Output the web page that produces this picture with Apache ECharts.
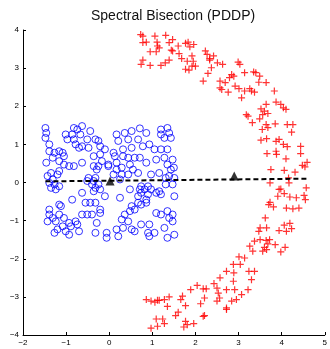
<!DOCTYPE html>
<html>
<head>
<meta charset="utf-8">
<script src="https://cdn.jsdelivr.net/npm/echarts@6/dist/echarts.min.js"></script>
<style>
html, body { margin: 0; padding: 0; background: #fff; }
#chart { width: 330px; height: 349px; }
</style>
</head>
<body>
<div id="chart"></div>
<script>
// blue circles, left cluster
var circlePts = [
	[-1.48, 1.43], [-1.46, 1.30], [-1.48, 1.17], [-0.82, 1.43], [-0.63, 1.48], [-0.44, 1.35], [-0.74, 1.39], [-1.01, 1.26],
	[-0.86, 1.26], [-0.67, 1.26], [-0.97, 1.13], [-0.82, 1.13], [-0.51, 1.13], [-0.32, 1.13], [-0.25, 1.09], [-0.78, 1.00],
	[-0.63, 0.95], [-0.70, 0.91], [-0.48, 0.91], [-0.21, 0.95], [-0.10, 0.87], [-1.39, 1.00], [-1.16, 0.82], [-1.08, 0.78],
	[-1.05, 0.69], [-1.39, 0.82], [-1.27, 0.78], [-1.31, 0.65], [-1.46, 0.52], [-1.16, 0.56], [-1.05, 0.47], [-0.93, 0.43],
	[-0.82, 0.43], [-0.63, 0.52], [-0.36, 0.43], [-0.25, 0.43], [-0.29, 0.34], [-0.21, 0.74], [-0.36, 0.69], [-0.17, 0.56],
	[-0.02, 0.43], [-1.35, 0.25], [-1.16, 0.30], [-1.20, 0.21], [-1.43, 0.17], [-1.31, 0.08], [-1.39, -0.01], [-1.27, -0.05],
	[-1.16, -0.10], [-1.24, -0.18], [-1.35, -0.14], [-0.48, 0.12], [-0.32, 0.12], [-0.51, 0.04], [-0.36, 0.04], [-0.40, -0.05],
	[-0.25, -0.05], [-0.32, -0.14], [-0.36, -0.23], [-0.21, -0.18], [-0.63, -0.27], [-0.10, -0.36], [-0.86, -0.45], [-0.55, -0.53],
	[-0.44, -0.53], [-0.32, -0.53], [-1.16, -0.58], [-1.12, -0.62], [-1.39, -0.71], [-1.39, -0.84], [-1.31, -0.93], [-1.43, -1.02],
	[-1.16, -0.84], [-1.05, -0.93], [-1.24, -1.02], [-0.93, -1.06], [-0.78, -1.02], [-0.74, -1.10], [-0.89, -1.15], [-1.08, -1.15],
	[-1.20, -1.23], [-1.27, -1.32], [-1.01, -1.28], [-0.93, -1.37], [-0.70, -1.28], [-0.63, -0.84], [-0.51, -0.84], [-0.40, -0.84],
	[-0.21, -0.71], [-0.21, -0.80], [-0.29, -1.06], [-0.32, -1.32], [-0.06, -1.32], [-0.06, -1.45],
	[0.17, 1.26], [0.36, 1.30], [0.52, 1.35], [0.71, 1.42], [0.86, 1.30], [1.20, 1.39], [1.35, 1.43], [1.20, 1.26],
	[1.39, 1.30], [1.28, 1.17], [1.43, 1.17], [0.21, 1.09], [0.44, 1.13], [0.67, 1.13], [0.78, 0.95], [0.93, 1.00],
	[1.05, 0.87], [1.20, 0.87], [1.35, 0.87], [0.32, 0.87], [0.52, 0.91], [0.10, 0.78], [0.13, 0.69], [0.32, 0.69],
	[0.44, 0.65], [0.59, 0.65], [0.71, 0.65], [0.86, 0.52], [1.09, 0.60], [1.28, 0.65], [1.47, 0.60], [-0.02, 0.47],
	[0.17, 0.52], [0.29, 0.39], [0.48, 0.47], [0.55, 0.34], [0.44, 0.21], [0.29, 0.21], [0.17, 0.34], [0.10, 0.21],
	[0.67, 0.25], [0.97, 0.21], [1.16, 0.25], [1.35, 0.47], [1.43, 0.34], [1.50, 0.39], [1.39, 0.17], [1.31, 0.12],
	[1.51, 0.12], [0.25, 0.08], [0.74, -0.10], [0.90, -0.10], [0.71, -0.18], [0.82, -0.18], [0.97, -0.18], [0.74, -0.27],
	[0.90, -0.31], [0.67, -0.36], [0.86, -0.45], [1.09, -0.27], [1.16, -0.23], [1.20, -0.31], [1.51, -0.36], [1.31, -0.05],
	[1.47, -0.05], [0.25, -0.40], [0.48, -0.18], [0.67, -0.53], [0.86, -0.53], [0.74, -0.58], [0.52, -0.62], [0.59, -0.71],
	[0.48, -0.75], [0.36, -0.84], [0.29, -0.97], [0.44, -1.02], [0.17, -1.23], [0.21, -1.41], [0.52, -1.23], [0.59, -1.28],
	[0.74, -1.10], [0.93, -1.10], [1.09, -0.80], [1.20, -0.84], [1.35, -0.75], [1.47, -0.84], [1.39, -0.93], [1.47, -1.02],
	[1.28, -1.19], [1.35, -1.45], [1.51, -1.37], [0.90, -1.32], [0.93, -1.41], [1.05, -1.32], [0.32, -1.19]
];

// red pluses, crescent on the right
var plusPts = [
	[0.73, 3.88], [0.78, 3.84], [1.06, 3.84], [1.31, 3.86], [1.47, 3.75], [0.78, 3.67], [0.86, 3.68], [1.11, 3.68],
	[1.39, 3.67], [1.12, 3.58], [1.16, 3.53], [0.95, 3.43], [1.09, 3.43], [1.44, 3.47], [1.47, 3.45], [1.60, 3.58],
	[1.77, 3.65], [1.83, 3.68], [1.87, 3.56], [1.96, 3.62], [1.62, 3.38], [0.78, 3.21], [0.74, 3.10], [0.95, 3.07],
	[1.20, 3.07], [1.30, 3.14], [1.39, 3.21], [1.68, 3.25], [1.81, 3.18], [1.92, 3.32], [1.95, 3.18], [1.92, 3.05],
	[2.00, 3.05], [1.77, 2.97], [1.85, 2.95], [2.23, 3.45], [2.27, 3.36], [2.33, 3.21], [2.42, 3.32], [2.33, 3.25],
	[2.51, 3.14], [2.63, 3.10], [2.37, 3.01], [2.29, 2.86], [2.18, 2.66], [2.57, 2.66], [2.69, 2.62], [2.57, 2.48],
	[2.61, 2.44],
	[2.99, 3.16], [3.03, 3.10], [3.14, 2.88], [3.35, 2.90], [3.40, 2.88], [3.49, 2.79], [3.47, 2.63], [3.64, 2.62],
	[2.84, 2.83], [2.89, 2.79], [2.79, 2.75], [2.92, 2.53], [3.01, 2.46], [3.26, 2.46],
	[2.76, 2.37], [3.07, 2.22], [3.14, 2.40], [3.30, 2.40], [3.37, 2.37], [3.83, 2.40], [3.87, 2.11], [3.98, 2.05],
	[4.04, 1.96], [4.10, 1.92], [3.64, 2.05], [3.52, 1.93], [3.60, 1.87], [3.56, 1.78], [3.68, 1.81], [3.49, 1.67],
	[3.18, 1.78], [3.22, 1.74], [3.32, 1.57], [3.64, 1.52], [3.68, 1.44], [3.55, 1.39], [3.85, 1.54], [4.13, 1.52],
	[4.26, 1.52], [4.23, 1.32], [3.65, 1.15], [3.52, 1.11], [3.87, 1.08], [3.94, 1.13], [4.04, 1.00], [4.13, 0.94],
	[4.44, 0.95], [3.87, 0.82], [3.88, 0.74], [4.44, 0.76], [3.66, 0.76], [4.10, 0.62], [4.59, 0.53], [4.48, 0.45],
	[4.54, 0.41], [3.75, 0.34], [4.06, 0.32], [4.31, 0.27], [4.16, 0.12], [4.17, -0.01], [3.73, -0.01], [3.94, -0.18],
	[3.98, -0.17], [4.57, -0.14], [3.91, -0.36], [4.06, -0.29], [4.19, -0.38], [4.34, -0.40], [4.52, -0.34], [4.55, -0.45],
	[3.73, -0.52], [3.70, -0.58], [3.81, -0.64], [4.11, -0.67], [4.26, -0.69], [4.40, -0.67], [3.62, -0.93],
	[3.50, -1.19], [3.65, -1.19], [3.47, -1.28], [3.94, -1.26], [4.06, -1.12], [4.19, -1.07], [4.23, -1.21], [4.11, -1.28],
	[3.50, -1.50], [3.64, -1.52], [3.72, -1.50], [3.68, -1.61], [3.60, -1.70], [3.85, -1.63], [4.08, -1.70], [3.56, -1.80],
	[3.65, -1.76], [3.98, -1.82],
	[3.37, -1.54], [3.26, -1.67], [3.33, -1.80], [3.01, -1.95], [3.14, -1.98], [2.88, -2.15], [3.04, -2.15], [2.72, -2.33],
	[2.89, -2.37], [3.24, -2.33], [3.37, -2.33], [2.57, -2.50], [3.30, -2.55], [2.88, -2.59], [2.43, -2.65], [2.04, -2.70],
	[1.89, -2.81], [2.18, -2.79], [2.25, -2.79], [2.50, -2.77], [2.72, -2.81], [2.91, -2.81], [3.22, -2.81], [2.53, -2.90],
	[3.07, -2.94], [2.56, -3.03], [2.21, -3.03], [1.70, -2.98], [1.66, -3.07], [1.39, -3.00], [1.28, -3.07], [1.16, -3.09],
	[0.86, -3.07], [0.97, -3.11], [1.06, -3.14], [1.12, -3.09], [1.35, -3.25], [1.77, -3.23], [2.12, -3.18], [2.50, -3.11],
	[2.84, -3.11], [2.95, -3.07], [2.72, -3.29], [2.72, -3.33], [1.60, -3.40], [1.54, -3.49], [2.21, -3.49], [2.18, -3.51],
	[1.09, -3.58], [1.24, -3.58], [1.28, -3.70], [1.12, -3.77], [0.97, -3.82], [1.77, -3.64], [1.81, -3.73], [1.96, -3.70],
	[1.73, -3.79]
];

// the two centroids (triangles) and the dashed splitting line
var centroids = [[0.02, 0.04], [2.90, 0.17]];
var cutLine = [[-1.48, 0.03], [4.59, 0.10]];

var xTicks = [-2, -1, 0, 1, 2, 3, 4, 5];
var yTicks = [-4, -3, -2, -1, 0, 1, 2, 3, 4];

var fontName = '"Liberation Sans", Arial, sans-serif';
var minusFmt = function(v) {
	return String(v).replace('-', '\u2212');
};

var chart = echarts.init(document.getElementById('chart'));
var option = {
	animation: false,
	title: {
		text: 'Spectral Bisection (PDDP)',
		left: 86,
		top: 4,
		textStyle: {
			fontFamily: fontName,
			fontSize: 14,
			fontWeight: 'normal',
			color: '#111'
		}
	},
	grid: {
		left: 23,
		right: 1,
		top: 30,
		bottom: 14
	},
	xAxis: {
		type: 'value',
		min: xTicks[0],
		max: xTicks[xTicks.length - 1],
		interval: 1,
		axisLine: { onZero: false, lineStyle: { color: '#000', width: 1 } },
		axisTick: { inside: true, length: 3, lineStyle: { color: '#000' } },
		axisLabel: {
			fontFamily: fontName,
			fontSize: 8,
			color: '#000',
			margin: 4,
			formatter: minusFmt
		},
		splitLine: { show: false }
	},
	yAxis: {
		type: 'value',
		min: yTicks[0],
		max: yTicks[yTicks.length - 1],
		interval: 1,
		axisLine: { onZero: false, lineStyle: { color: '#000', width: 1 } },
		axisTick: { inside: true, length: 3, lineStyle: { color: '#000' } },
		axisLabel: {
			fontFamily: fontName,
			fontSize: 8,
			color: '#000',
			margin: 4,
			formatter: minusFmt
		},
		splitLine: { show: false }
	},
	series: [{
		name: 'cluster 1',
		type: 'scatter',
		symbol: 'circle',
		symbolSize: 7,
		itemStyle: {
			color: 'rgba(0,0,0,0)',
			borderColor: '#0000ff',
			borderWidth: 1
		},
		data: circlePts
	}, {
		name: 'cluster 2',
		type: 'scatter',
		symbol: 'path://M0,2.9H2.9V0H4.1V2.9H7V4.1H4.1V7H2.9V4.1H0Z',
		symbolSize: 7,
		itemStyle: {
			color: '#ff0000'
		},
		data: plusPts
	}, {
		name: 'split',
		type: 'line',
		symbol: 'none',
		lineStyle: {
			color: '#000',
			width: 2,
			type: [5, 3]
		},
		data: cutLine
	}, {
		name: 'centroids',
		type: 'scatter',
		symbol: 'triangle',
		symbolSize: 9,
		itemStyle: {
			color: '#000'
		},
		data: centroids
	}]
};
chart.setOption(option);
</script>
</body>
</html>
